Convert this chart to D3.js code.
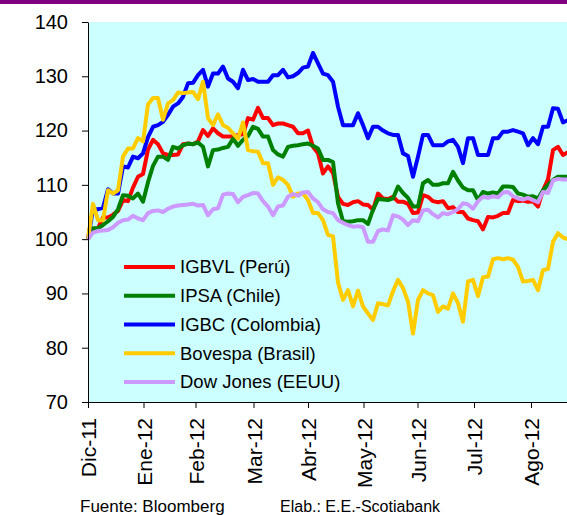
<!DOCTYPE html>
<html>
<head>
<meta charset="utf-8">
<script src="https://cdn.jsdelivr.net/npm/d3@7"></script>
<style>
  body { margin: 0; background: #fff; }
  svg { display: block; font-family: "Liberation Sans", Arial, sans-serif; }
</style>
</head>
<body>
<script>
// index values, base 100 (one point every few trading days)
var peru = [100, 101.8, 102, 104, 104, 104.5, 105.2, 107.2, 107, 109.5,
  111.5, 112, 116.5, 118.3, 117.5, 115.8, 115.5, 115.5, 115.6, 117.5,
  117.6, 117.5, 118, 120.1, 119, 120.4, 119.5, 118.9, 118.9, 118.9,
  119.2, 119.3, 122.3, 122, 124.2, 122.3, 122.3, 121, 121.3, 121.3,
  121, 120.7, 119.5, 119.5, 120, 117, 115.8, 112.1, 113.4, 112.2,
  107.8, 106.5, 106.3, 106.8, 107, 106.4, 106.3, 105.4, 108.4, 107.5,
  107.4, 107.8, 106.9, 106.9, 106.5, 104.8, 104.9, 108.1, 107.8, 107,
  106.8, 107, 105.7, 105.9, 105, 105, 103.8, 103.5, 103.3, 101.8,
  104.1, 104, 104.3, 104.8, 104.8, 107.2, 107, 107.1, 106.9, 107,
  106, 109, 111, 116.4, 117, 115.5, 116];

var chile = [100, 102, 102, 102.6, 103.3, 104.1, 105.5, 108.1, 108, 107.5,
  108.4, 106.9, 110.5, 113.5, 115.2, 115.2, 114.6, 117, 116.7, 117.3,
  117.6, 117.5, 117.8, 117, 113.4, 116.4, 116.5, 116.8, 117, 118.5,
  117.2, 118.3, 119, 120.7, 120.3, 118.9, 118.9, 116.4, 115.6, 115.2,
  117, 117.2, 117.3, 117.5, 117.6, 117.2, 116.7, 114.6, 114.6, 114.2,
  106.6, 103.3, 103.2, 103.3, 103.5, 103.5, 102.8, 105.4, 107.4, 107.3,
  107.2, 107.5, 109.7, 108.5, 107.6, 106, 106, 110.3, 110.9, 110,
  110, 110.3, 110.3, 112.4, 110.8, 109.5, 109, 109, 107.2, 108.7,
  108.4, 108.6, 108.4, 109.7, 109.7, 109.6, 108.4, 108.2, 107.8, 107.9,
  107.5, 109, 110, 110.9, 111.5, 111.5, 111.5];

var colombia = [100, 105.5, 105.5, 105.8, 109.2, 108.4, 108.4, 113.4, 113.2, 115.2,
  114.9, 115.8, 118.8, 120.7, 121, 121.6, 122.9, 124.4, 125, 126.2,
  128.7, 128.8, 130.2, 131.2, 128.1, 130.5, 130.5, 131.8, 129.6, 129,
  127.8, 131.2, 129.3, 129.5, 129, 129, 129, 130.2, 130.2, 131.2,
  129.8, 130, 130.6, 131.6, 131.8, 134.3, 132.4, 130.5, 130.2, 129,
  124.4, 121, 121, 121, 123.2, 121, 118.6, 120.7, 120.7, 120,
  119.5, 119.2, 119.2, 115.8, 115.3, 111.5, 115.2, 119.2, 119.2, 117.3,
  117.3, 117.3, 118, 118.3, 117, 114, 118.6, 118.6, 115.5, 115.5,
  115.5, 118.6, 118.6, 119.8, 119.8, 120.1, 119.8, 119.5, 117.3, 118.6,
  117.5, 120.7, 120.7, 124.1, 124, 121.5, 121.9];

var brasil = [100, 106.5, 103.5, 103.5, 109, 108.4, 109, 115.2, 116.7, 116.7,
  118.6, 118, 124.8, 126, 126, 122, 125, 125.6, 127, 126.9,
  127, 127.1, 125.8, 129, 122.3, 121, 123, 121, 120.5, 119.5,
  118.5, 121.5, 116.4, 116.2, 116.1, 114, 114, 110, 111.4, 110.9,
  110, 107.8, 108.4, 108.4, 107.2, 104.8, 104.8, 103.5, 100.8, 100.5,
  92, 88.8, 90.6, 87.6, 90.5, 87.6, 86.3, 85.1, 88.2, 88,
  87.8, 90.4, 92.5, 91, 88.5, 82.6, 88.8, 90.6, 90, 89.7,
  86.6, 87.6, 87.2, 90, 88.2, 84.8, 92.2, 92.5, 89.5, 93,
  93.1, 96.3, 96.5, 96.3, 96.5, 96.2, 94.9, 92.2, 92.3, 92.5,
  90.6, 94.3, 94.5, 99.5, 101.1, 100.3, 100];

var dowJones = [100, 101.2, 101.5, 101.6, 101.7, 102.2, 103, 103.5, 103.6, 104.3,
  103.8, 103.5, 104.8, 105.2, 105.3, 105, 105.6, 106, 106.2, 106.3,
  106.4, 106.5, 106.2, 106.3, 104.4, 105.5, 105.7, 108.2, 108.4, 108.3,
  106.8, 107.8, 108.1, 108.5, 108.4, 107, 106, 104.4, 106, 106.2,
  107.8, 108.3, 108, 108.6, 108.7, 107.5, 106.8, 105.5, 105, 104.8,
  103.5, 103, 102.6, 102.3, 102.4, 102.2, 99.5, 99.5, 101.5, 101.8,
  101.6, 104.4, 104.2, 103.6, 102.6, 103.5, 103.3, 105.3, 105.4, 104.6,
  104, 104.8, 104.6, 105, 105.5, 106.6, 106.4, 105.6, 107, 107.8,
  107.6, 107.9, 107.7, 108.6, 108.7, 107.9, 107.5, 107.3, 107.6, 107.2,
  106.8, 108.7, 108.5, 110.8, 111.1, 111, 111];

var seriesNames = ["IGBVL (Perú)", "IPSA (Chile)", "IGBC (Colombia)", "Bovespa (Brasil)", "Dow Jones (EEUU)"];
var seriesColors = ["#ff0000", "#008000", "#0000ff", "#ffcc00", "#cc99ff"];

// month ticks, as position in the point index
var monthTicks = [0, 11.1, 21.5, 33.1, 44, 55.1, 65.9, 77.2, 88.6];
var monthLabels = ["Dic-11", "Ene-12", "Feb-12", "Mar-12", "Abr-12", "May-12", "Jun-12", "Jul-12", "Ago-12"];
var yTicks = [70, 80, 90, 100, 110, 120, 130, 140];

var width = 567, height = 515;
var margin = {top: 22, right: 0, bottom: 113, left: 88};

var svg = d3.select("body").append("svg")
    .attr("width", width)
    .attr("height", height);

// purple band on top
svg.append("rect")
    .attr("x", 0).attr("y", 0)
    .attr("width", width).attr("height", 4)
    .attr("fill", "#800080");

var allSeries = [peru, chile, colombia, brasil, dowJones];

var x = d3.scaleLinear()
    .domain([0, peru.length - 1])
    .range([margin.left, margin.left + 5 * (peru.length - 1)]);
var y = d3.scaleLinear()
    .domain([70, 140])
    .range([height - margin.bottom, margin.top]);

// plot area
svg.append("rect")
    .attr("x", margin.left)
    .attr("y", margin.top)
    .attr("width", width - margin.left)
    .attr("height", y(70) - y(140))
    .attr("fill", "#ccffff");

var line = d3.line()
    .x(function(d, i) { return x(i); })
    .y(function(d) { return y(d); });

svg.selectAll(".serie")
    .data(allSeries)
  .enter().append("path")
    .attr("class", "serie")
    .attr("d", line)
    .attr("fill", "none")
    .attr("stroke", function(d, i) { return seriesColors[i]; })
    .attr("stroke-width", 4)
    .attr("stroke-linejoin", "round");

// y axis
var yAxis = svg.append("g")
    .attr("transform", "translate(" + margin.left + ",0)")
    .call(d3.axisLeft(y).tickValues(yTicks).tickSize(6).tickSizeOuter(0).tickPadding(14));
yAxis.selectAll("text")
    .style("font-size", "20px")
    .attr("fill", "#000");
yAxis.selectAll("line, path").attr("stroke", "#000");

// x axis
var xAxis = svg.append("g")
    .attr("transform", "translate(0," + y(70) + ")")
    .call(d3.axisBottom(x).tickValues(monthTicks).tickSize(6).tickSizeOuter(0)
      .tickFormat(function(d, i) { return monthLabels[i]; }));
xAxis.select(".domain")
    .attr("d", "M" + margin.left + ",0.5H" + width);
xAxis.selectAll("line, path").attr("stroke", "#000");
xAxis.selectAll("text")
    .attr("transform", "rotate(-90)")
    .attr("x", -16)
    .attr("y", 0)
    .attr("dy", "0.36em")
    .style("text-anchor", "end")
    .style("font-size", "21px")
    .attr("fill", "#000");

// legend
var legend = svg.selectAll(".legend")
    .data(seriesNames)
  .enter().append("g")
    .attr("class", "legend")
    .attr("transform", function(d, i) { return "translate(124," + (267 + i * 28.75) + ")"; });

legend.append("line")
    .attr("x1", 0).attr("x2", 51)
    .attr("stroke", function(d, i) { return seriesColors[i]; })
    .attr("stroke-width", 4);

legend.append("text")
    .attr("x", 56)
    .attr("dy", "0.35em")
    .style("font-size", "18.5px")
    .text(function(d) { return d; });

// source notes
svg.append("text")
    .attr("x", 80).attr("y", 512)
    .style("font-size", "17px")
    .text("Fuente: Bloomberg");
svg.append("text")
    .attr("x", 280).attr("y", 512)
    .style("font-size", "16px")
    .text("Elab.: E.E.-Scotiabank");
</script>
</body>
</html>
